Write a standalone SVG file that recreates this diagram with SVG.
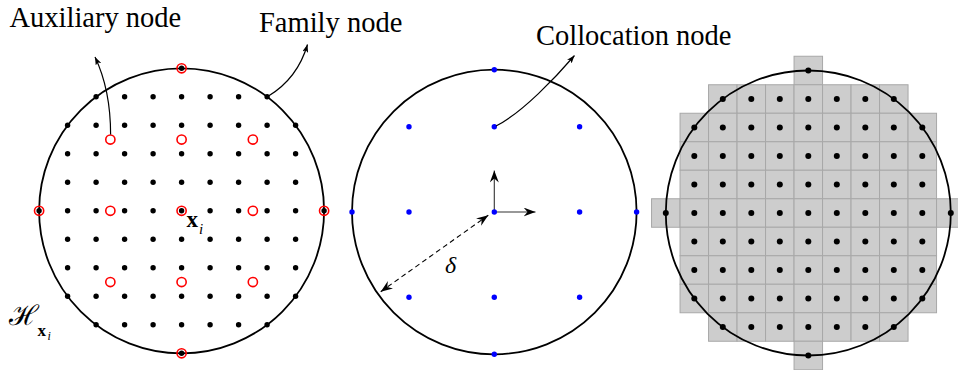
<svg xmlns="http://www.w3.org/2000/svg" xmlns:xlink="http://www.w3.org/1999/xlink" width="958" height="370" viewBox="0 0 958 370">
<style>
.lbl{font-family:"Liberation Serif","Times New Roman",serif;font-size:28.5px;fill:#000}
.ring{fill:none;stroke:#000;stroke-width:1.8}
.red{fill:none;stroke:#f00;stroke-width:1.6}
.conn{fill:none;stroke:#000;stroke-width:1.2}
.axis{fill:none;stroke:#333;stroke-width:1.1}
.dash{fill:none;stroke:#000;stroke-width:1.1;stroke-dasharray:5 3.5}
.cell{fill:#cdcdcd;stroke:#a8a8a8;stroke-width:1}
.math{font-family:"Liberation Serif","Times New Roman",serif;fill:#000}
</style>
<defs>
<circle id="bd" r="2.7" fill="#000"/>
<circle id="bd2" r="3" fill="#000"/>
<circle id="bl" r="2.7" fill="#0000ff"/>
<circle id="rc" r="4.6" class="red"/>
<rect id="cl" x="-14.25" y="-14.25" width="28.5" height="28.5" class="cell"/>
<marker id="ah" viewBox="-8 -3 8 6" refX="0" refY="0" markerWidth="8" markerHeight="6" markerUnits="userSpaceOnUse" orient="auto">
<path d="M0,0 L-8,-3 L-6,0 L-8,3 Z" fill="#000"/>
</marker>
<marker id="st" viewBox="-12 -4.5 12 9" refX="0" refY="0" markerWidth="12" markerHeight="9" markerUnits="userSpaceOnUse" orient="auto-start-reverse">
<path d="M0,0 L-12,-4.5 L-8,0 L-12,4.5 Z" fill="#000"/>
</marker>
</defs>
<rect width="958" height="370" fill="#fff"/>

<g id="panel-left">
<circle class="ring" cx="181.6" cy="210.8" r="142.5"/>
<g id="left-dots">
<g transform="translate(0,68.3)"><use xlink:href="#bd" x="181.6"/></g>
<g transform="translate(0,96.8)"><use xlink:href="#bd" x="96.1"/><use xlink:href="#bd" x="124.6"/><use xlink:href="#bd" x="153.1"/><use xlink:href="#bd" x="181.6"/><use xlink:href="#bd" x="210.1"/><use xlink:href="#bd" x="238.6"/><use xlink:href="#bd" x="267.1"/></g>
<g transform="translate(0,125.3)"><use xlink:href="#bd" x="67.6"/><use xlink:href="#bd" x="96.1"/><use xlink:href="#bd" x="124.6"/><use xlink:href="#bd" x="153.1"/><use xlink:href="#bd" x="181.6"/><use xlink:href="#bd" x="210.1"/><use xlink:href="#bd" x="238.6"/><use xlink:href="#bd" x="267.1"/><use xlink:href="#bd" x="295.6"/></g>
<g transform="translate(0,153.8)"><use xlink:href="#bd" x="67.6"/><use xlink:href="#bd" x="96.1"/><use xlink:href="#bd" x="124.6"/><use xlink:href="#bd" x="153.1"/><use xlink:href="#bd" x="181.6"/><use xlink:href="#bd" x="210.1"/><use xlink:href="#bd" x="238.6"/><use xlink:href="#bd" x="267.1"/><use xlink:href="#bd" x="295.6"/></g>
<g transform="translate(0,182.3)"><use xlink:href="#bd" x="67.6"/><use xlink:href="#bd" x="96.1"/><use xlink:href="#bd" x="124.6"/><use xlink:href="#bd" x="153.1"/><use xlink:href="#bd" x="181.6"/><use xlink:href="#bd" x="210.1"/><use xlink:href="#bd" x="238.6"/><use xlink:href="#bd" x="267.1"/><use xlink:href="#bd" x="295.6"/></g>
<g transform="translate(0,210.8)"><use xlink:href="#bd" x="39.1"/><use xlink:href="#bd" x="67.6"/><use xlink:href="#bd" x="96.1"/><use xlink:href="#bd" x="124.6"/><use xlink:href="#bd" x="153.1"/><use xlink:href="#bd" x="181.6"/><use xlink:href="#bd" x="210.1"/><use xlink:href="#bd" x="238.6"/><use xlink:href="#bd" x="267.1"/><use xlink:href="#bd" x="295.6"/><use xlink:href="#bd" x="324.1"/></g>
<g transform="translate(0,239.3)"><use xlink:href="#bd" x="67.6"/><use xlink:href="#bd" x="96.1"/><use xlink:href="#bd" x="124.6"/><use xlink:href="#bd" x="153.1"/><use xlink:href="#bd" x="181.6"/><use xlink:href="#bd" x="210.1"/><use xlink:href="#bd" x="238.6"/><use xlink:href="#bd" x="267.1"/><use xlink:href="#bd" x="295.6"/></g>
<g transform="translate(0,267.8)"><use xlink:href="#bd" x="67.6"/><use xlink:href="#bd" x="96.1"/><use xlink:href="#bd" x="124.6"/><use xlink:href="#bd" x="153.1"/><use xlink:href="#bd" x="181.6"/><use xlink:href="#bd" x="210.1"/><use xlink:href="#bd" x="238.6"/><use xlink:href="#bd" x="267.1"/><use xlink:href="#bd" x="295.6"/></g>
<g transform="translate(0,296.3)"><use xlink:href="#bd" x="67.6"/><use xlink:href="#bd" x="96.1"/><use xlink:href="#bd" x="124.6"/><use xlink:href="#bd" x="153.1"/><use xlink:href="#bd" x="181.6"/><use xlink:href="#bd" x="210.1"/><use xlink:href="#bd" x="238.6"/><use xlink:href="#bd" x="267.1"/><use xlink:href="#bd" x="295.6"/></g>
<g transform="translate(0,324.8)"><use xlink:href="#bd" x="96.1"/><use xlink:href="#bd" x="124.6"/><use xlink:href="#bd" x="153.1"/><use xlink:href="#bd" x="181.6"/><use xlink:href="#bd" x="210.1"/><use xlink:href="#bd" x="238.6"/><use xlink:href="#bd" x="267.1"/></g>
<g transform="translate(0,353.3)"><use xlink:href="#bd" x="181.6"/></g>
</g>
<g id="left-aux">
<use xlink:href="#rc" x="110.35" y="139.55"/><use xlink:href="#rc" x="181.6" y="139.55"/><use xlink:href="#rc" x="252.85" y="139.55"/>
<use xlink:href="#rc" x="110.35" y="210.8"/><use xlink:href="#rc" x="181.6" y="210.8"/><use xlink:href="#rc" x="252.85" y="210.8"/>
<use xlink:href="#rc" x="110.35" y="282.05"/><use xlink:href="#rc" x="181.6" y="282.05"/><use xlink:href="#rc" x="252.85" y="282.05"/>
<use xlink:href="#rc" x="181.6" y="68.3"/><use xlink:href="#rc" x="181.6" y="353.3"/><use xlink:href="#rc" x="39.1" y="210.8"/><use xlink:href="#rc" x="324.1" y="210.8"/>
</g>
<text class="math" x="186.5" y="226.7" font-size="23" font-weight="bold">x<tspan font-weight="normal" font-style="italic" font-size="15" dx="1" dy="7.5">i</tspan></text>
<text class="math" x="9" y="325" font-family="'DejaVu Serif',serif" font-size="28">ℋ<tspan font-family="'Liberation Serif',serif" font-weight="bold" font-size="17" x="37.5" y="336">x</tspan><tspan font-family="'Liberation Serif',serif" font-style="italic" font-size="12" x="47.5" y="339.5">i</tspan></text>
</g>

<g id="panel-middle">
<circle class="ring" cx="494.3" cy="212" r="142.3"/>
<use xlink:href="#bl" x="494.3" y="69.7"/>
<use xlink:href="#bl" x="409" y="126.7"/><use xlink:href="#bl" x="494.3" y="126.7"/><use xlink:href="#bl" x="579.6" y="126.7"/>
<use xlink:href="#bl" x="352" y="212"/><use xlink:href="#bl" x="409" y="212"/><use xlink:href="#bl" x="579.6" y="212"/><use xlink:href="#bl" x="636.6" y="212"/>
<use xlink:href="#bl" x="409" y="297.3"/><use xlink:href="#bl" x="494.3" y="297.3"/><use xlink:href="#bl" x="579.6" y="297.3"/>
<use xlink:href="#bl" x="494.3" y="354.3"/>
<line class="axis" x1="494.3" y1="212" x2="494.3" y2="170.5" marker-end="url(#st)"/>
<line class="axis" x1="494.3" y1="212" x2="535.5" y2="212" marker-end="url(#st)"/>
<line class="dash" x1="380.7" y1="291.7" x2="488.3" y2="215.2" marker-start="url(#st)" marker-end="url(#st)"/>
<use xlink:href="#bl" x="494.3" y="212"/>
<text class="math" x="450.5" y="273" font-size="24" font-style="italic" text-anchor="middle">δ</text>
</g>

<g id="panel-right">
<g id="cells">
<g transform="translate(0,70.5)"><use xlink:href="#cl" x="808.3"/></g>
<g transform="translate(0,99)"><use xlink:href="#cl" x="722.8"/><use xlink:href="#cl" x="751.3"/><use xlink:href="#cl" x="779.8"/><use xlink:href="#cl" x="808.3"/><use xlink:href="#cl" x="836.8"/><use xlink:href="#cl" x="865.3"/><use xlink:href="#cl" x="893.8"/></g>
<g transform="translate(0,127.5)"><use xlink:href="#cl" x="694.3"/><use xlink:href="#cl" x="722.8"/><use xlink:href="#cl" x="751.3"/><use xlink:href="#cl" x="779.8"/><use xlink:href="#cl" x="808.3"/><use xlink:href="#cl" x="836.8"/><use xlink:href="#cl" x="865.3"/><use xlink:href="#cl" x="893.8"/><use xlink:href="#cl" x="922.3"/></g>
<g transform="translate(0,156)"><use xlink:href="#cl" x="694.3"/><use xlink:href="#cl" x="722.8"/><use xlink:href="#cl" x="751.3"/><use xlink:href="#cl" x="779.8"/><use xlink:href="#cl" x="808.3"/><use xlink:href="#cl" x="836.8"/><use xlink:href="#cl" x="865.3"/><use xlink:href="#cl" x="893.8"/><use xlink:href="#cl" x="922.3"/></g>
<g transform="translate(0,184.5)"><use xlink:href="#cl" x="694.3"/><use xlink:href="#cl" x="722.8"/><use xlink:href="#cl" x="751.3"/><use xlink:href="#cl" x="779.8"/><use xlink:href="#cl" x="808.3"/><use xlink:href="#cl" x="836.8"/><use xlink:href="#cl" x="865.3"/><use xlink:href="#cl" x="893.8"/><use xlink:href="#cl" x="922.3"/></g>
<g transform="translate(0,213)"><use xlink:href="#cl" x="665.8"/><use xlink:href="#cl" x="694.3"/><use xlink:href="#cl" x="722.8"/><use xlink:href="#cl" x="751.3"/><use xlink:href="#cl" x="779.8"/><use xlink:href="#cl" x="808.3"/><use xlink:href="#cl" x="836.8"/><use xlink:href="#cl" x="865.3"/><use xlink:href="#cl" x="893.8"/><use xlink:href="#cl" x="922.3"/><use xlink:href="#cl" x="950.8"/></g>
<g transform="translate(0,241.5)"><use xlink:href="#cl" x="694.3"/><use xlink:href="#cl" x="722.8"/><use xlink:href="#cl" x="751.3"/><use xlink:href="#cl" x="779.8"/><use xlink:href="#cl" x="808.3"/><use xlink:href="#cl" x="836.8"/><use xlink:href="#cl" x="865.3"/><use xlink:href="#cl" x="893.8"/><use xlink:href="#cl" x="922.3"/></g>
<g transform="translate(0,270)"><use xlink:href="#cl" x="694.3"/><use xlink:href="#cl" x="722.8"/><use xlink:href="#cl" x="751.3"/><use xlink:href="#cl" x="779.8"/><use xlink:href="#cl" x="808.3"/><use xlink:href="#cl" x="836.8"/><use xlink:href="#cl" x="865.3"/><use xlink:href="#cl" x="893.8"/><use xlink:href="#cl" x="922.3"/></g>
<g transform="translate(0,298.5)"><use xlink:href="#cl" x="694.3"/><use xlink:href="#cl" x="722.8"/><use xlink:href="#cl" x="751.3"/><use xlink:href="#cl" x="779.8"/><use xlink:href="#cl" x="808.3"/><use xlink:href="#cl" x="836.8"/><use xlink:href="#cl" x="865.3"/><use xlink:href="#cl" x="893.8"/><use xlink:href="#cl" x="922.3"/></g>
<g transform="translate(0,327)"><use xlink:href="#cl" x="722.8"/><use xlink:href="#cl" x="751.3"/><use xlink:href="#cl" x="779.8"/><use xlink:href="#cl" x="808.3"/><use xlink:href="#cl" x="836.8"/><use xlink:href="#cl" x="865.3"/><use xlink:href="#cl" x="893.8"/></g>
<g transform="translate(0,355.5)"><use xlink:href="#cl" x="808.3"/></g>
</g>
<circle class="ring" cx="808.3" cy="213" r="142.5"/>
<g id="right-dots">
<g transform="translate(0,70.5)"><use xlink:href="#bd2" x="808.3"/></g>
<g transform="translate(0,99)"><use xlink:href="#bd2" x="722.8"/><use xlink:href="#bd2" x="751.3"/><use xlink:href="#bd2" x="779.8"/><use xlink:href="#bd2" x="808.3"/><use xlink:href="#bd2" x="836.8"/><use xlink:href="#bd2" x="865.3"/><use xlink:href="#bd2" x="893.8"/></g>
<g transform="translate(0,127.5)"><use xlink:href="#bd2" x="694.3"/><use xlink:href="#bd2" x="722.8"/><use xlink:href="#bd2" x="751.3"/><use xlink:href="#bd2" x="779.8"/><use xlink:href="#bd2" x="808.3"/><use xlink:href="#bd2" x="836.8"/><use xlink:href="#bd2" x="865.3"/><use xlink:href="#bd2" x="893.8"/><use xlink:href="#bd2" x="922.3"/></g>
<g transform="translate(0,156)"><use xlink:href="#bd2" x="694.3"/><use xlink:href="#bd2" x="722.8"/><use xlink:href="#bd2" x="751.3"/><use xlink:href="#bd2" x="779.8"/><use xlink:href="#bd2" x="808.3"/><use xlink:href="#bd2" x="836.8"/><use xlink:href="#bd2" x="865.3"/><use xlink:href="#bd2" x="893.8"/><use xlink:href="#bd2" x="922.3"/></g>
<g transform="translate(0,184.5)"><use xlink:href="#bd2" x="694.3"/><use xlink:href="#bd2" x="722.8"/><use xlink:href="#bd2" x="751.3"/><use xlink:href="#bd2" x="779.8"/><use xlink:href="#bd2" x="808.3"/><use xlink:href="#bd2" x="836.8"/><use xlink:href="#bd2" x="865.3"/><use xlink:href="#bd2" x="893.8"/><use xlink:href="#bd2" x="922.3"/></g>
<g transform="translate(0,213)"><use xlink:href="#bd2" x="665.8"/><use xlink:href="#bd2" x="694.3"/><use xlink:href="#bd2" x="722.8"/><use xlink:href="#bd2" x="751.3"/><use xlink:href="#bd2" x="779.8"/><use xlink:href="#bd2" x="808.3"/><use xlink:href="#bd2" x="836.8"/><use xlink:href="#bd2" x="865.3"/><use xlink:href="#bd2" x="893.8"/><use xlink:href="#bd2" x="922.3"/><use xlink:href="#bd2" x="950.8"/></g>
<g transform="translate(0,241.5)"><use xlink:href="#bd2" x="694.3"/><use xlink:href="#bd2" x="722.8"/><use xlink:href="#bd2" x="751.3"/><use xlink:href="#bd2" x="779.8"/><use xlink:href="#bd2" x="808.3"/><use xlink:href="#bd2" x="836.8"/><use xlink:href="#bd2" x="865.3"/><use xlink:href="#bd2" x="893.8"/><use xlink:href="#bd2" x="922.3"/></g>
<g transform="translate(0,270)"><use xlink:href="#bd2" x="694.3"/><use xlink:href="#bd2" x="722.8"/><use xlink:href="#bd2" x="751.3"/><use xlink:href="#bd2" x="779.8"/><use xlink:href="#bd2" x="808.3"/><use xlink:href="#bd2" x="836.8"/><use xlink:href="#bd2" x="865.3"/><use xlink:href="#bd2" x="893.8"/><use xlink:href="#bd2" x="922.3"/></g>
<g transform="translate(0,298.5)"><use xlink:href="#bd2" x="694.3"/><use xlink:href="#bd2" x="722.8"/><use xlink:href="#bd2" x="751.3"/><use xlink:href="#bd2" x="779.8"/><use xlink:href="#bd2" x="808.3"/><use xlink:href="#bd2" x="836.8"/><use xlink:href="#bd2" x="865.3"/><use xlink:href="#bd2" x="893.8"/><use xlink:href="#bd2" x="922.3"/></g>
<g transform="translate(0,327)"><use xlink:href="#bd2" x="722.8"/><use xlink:href="#bd2" x="751.3"/><use xlink:href="#bd2" x="779.8"/><use xlink:href="#bd2" x="808.3"/><use xlink:href="#bd2" x="836.8"/><use xlink:href="#bd2" x="865.3"/><use xlink:href="#bd2" x="893.8"/></g>
<g transform="translate(0,355.5)"><use xlink:href="#bd2" x="808.3"/></g>
</g>
</g>

<g id="label-auxiliary"><text class="lbl" x="9.5" y="27">Auxiliary node</text></g>
<g id="label-family"><text class="lbl" x="259" y="32">Family node</text></g>
<g id="label-collocation"><text class="lbl" x="536" y="44.5">Collocation node</text></g>

<g id="connectors">
<path class="conn" d="M110.6,134.6 C110.6,106 105.5,79 95,57" marker-end="url(#ah)"/>
<path class="conn" d="M268.5,96 C285,86 300,70 307.5,44.5" marker-end="url(#ah)"/>
<path class="conn" d="M496,126 C522,113 557,76 574.5,55.5" marker-end="url(#ah)"/>
</g>
</svg>
